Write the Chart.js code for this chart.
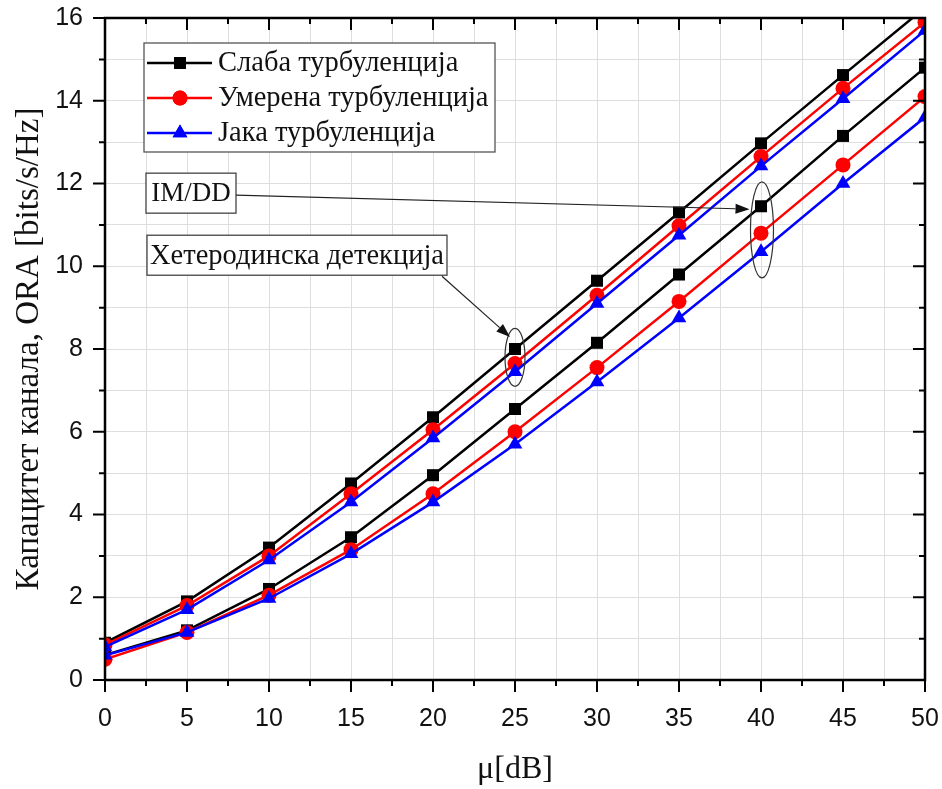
<!DOCTYPE html>
<html><head><meta charset="utf-8">
<script src="https://cdn.jsdelivr.net/npm/chart.js@4.4.1/dist/chart.umd.min.js"></script>
<style>html,body{margin:0;padding:0;background:#fff}#wrap{width:942px;height:789px}</style>
</head><body><div id="wrap"><canvas id="c" width="942" height="789"></canvas></div>
<script>
// ---- data ----
const snrDb = [0, 5, 10, 15, 20, 25, 30, 35, 40, 45, 50];
// heterodyne detection
const hetWeak     = [0.90, 1.90, 3.20, 4.75, 6.35, 8.00, 9.65, 11.30, 12.97, 14.62, 16.25];
const hetModerate = [0.85, 1.80, 3.00, 4.50, 6.05, 7.65, 9.30, 10.98, 12.65, 14.30, 15.90];
const hetStrong   = [0.80, 1.70, 2.90, 4.30, 5.85, 7.45, 9.10, 10.75, 12.42, 14.05, 15.70];
// IM/DD
const imddWeak     = [0.60, 1.20, 2.20, 3.45, 4.95, 6.55, 8.15, 9.80, 11.45, 13.15, 14.80];
const imddModerate = [0.50, 1.15, 2.05, 3.15, 4.50, 6.00, 7.55, 9.15, 10.80, 12.45, 14.10];
const imddStrong   = [0.60, 1.15, 1.97, 3.05, 4.30, 5.70, 7.20, 8.75, 10.35, 12.00, 13.60];

const legendLabels = ['Слаба турбуленција', 'Умерена турбуленција', 'Јака турбуленција'];
const xTitle = 'μ[dB]';
const yTitle = 'Капацитет канала, ORA [bits/s/Hz]';
const xTickValues = [0, 5, 10, 15, 20, 25, 30, 35, 40, 45, 50];
const yTickValues = [0, 2, 4, 6, 8, 10, 12, 14, 16];
const annoImdd = 'IM/DD';
const annoHet = 'Хетеродинска детекција';

// ---- styles ----
const colors = ['#000000', '#ff0000', '#0000ff'];
const shapes = ['rect', 'circle', 'triangle'];
const radii = [8.5, 7.5, 8.5];
const serif = '"Liberation Serif", "Times New Roman", serif';
const sans = '"Liberation Sans", Arial, sans-serif';

function pts(arr) { return snrDb.map((x, i) => ({x: x, y: arr[i]})); }
function ds(arr, k) {
  return {
    data: pts(arr), borderColor: colors[k], backgroundColor: colors[k],
    borderWidth: 2.5, pointStyle: shapes[k], pointRadius: radii[k], pointHoverRadius: radii[k],
    pointBorderWidth: 0, showLine: true, tension: 0, clip: 0, order: 3 - k
  };
}

const framePlugin = {
  id: 'frame',
  afterDatasetsDraw(chart) {
    const {ctx, chartArea: a, scales: {x, y}} = chart;
    ctx.save();
    // frame
    ctx.strokeStyle = '#000'; ctx.lineWidth = 2.5;
    ctx.strokeRect(a.left, a.top, a.right - a.left, a.bottom - a.top);
    // ticks
    ctx.lineWidth = 2;
    for (let v = 0; v <= 50.001; v += 2.5) {
      const px = x.getPixelForValue(v);
      const major = Math.abs(v % 5) < 1e-6;
      const L = major ? 12 : 6;
      ctx.beginPath();
      ctx.moveTo(px, a.bottom); ctx.lineTo(px, a.bottom + L);
      ctx.moveTo(px, a.top); ctx.lineTo(px, a.top + L);
      ctx.stroke();
    }
    for (let v = 0; v <= 16.001; v += 1) {
      const py = y.getPixelForValue(v);
      const major = v % 2 === 0;
      const L = major ? 12 : 6;
      ctx.beginPath();
      ctx.moveTo(a.left, py); ctx.lineTo(a.left - L, py);
      ctx.moveTo(a.right, py); ctx.lineTo(a.right - L, py);
      ctx.stroke();
    }
    // ---- annotations ----
    const X = v => x.getPixelForValue(v), Y = v => y.getPixelForValue(v);
    ctx.lineWidth = 1.2; ctx.strokeStyle = '#333';
    function ellipse(cx, cy, rx, ry) {
      ctx.beginPath();
      ctx.ellipse(X(cx), Y(cy), rx, ry, 0, 0, Math.PI * 2);
      ctx.stroke();
    }
    ellipse(25, 7.8, 10, 29);
    ellipse(40.06, 10.88, 11.5, 48);
    function box(txt, lx, ty, w, h, fs) {
      const l = X(lx), t = Y(ty);
      ctx.fillStyle = '#fff';
      ctx.fillRect(l, t, w, h);
      ctx.strokeStyle = '#444'; ctx.lineWidth = 1.3;
      ctx.strokeRect(l, t, w, h);
      ctx.fillStyle = '#111';
      ctx.font = fs + 'px ' + serif;
      ctx.textAlign = 'center'; ctx.textBaseline = 'middle';
      ctx.fillText(txt, l + w / 2, t + h / 2 + 1);
      return {l, t, w, h};
    }
    function arrow(x0, y0, x1, y1) {
      ctx.strokeStyle = '#222'; ctx.fillStyle = '#111'; ctx.lineWidth = 1.2;
      const ang = Math.atan2(y1 - y0, x1 - x0);
      const hl = 14, hw = 5;
      const bx = x1 - hl * Math.cos(ang), by = y1 - hl * Math.sin(ang);
      ctx.beginPath(); ctx.moveTo(x0, y0); ctx.lineTo(bx, by); ctx.stroke();
      ctx.beginPath();
      ctx.moveTo(x1, y1);
      ctx.lineTo(bx + hw * Math.sin(ang), by - hw * Math.cos(ang));
      ctx.lineTo(bx - hw * Math.sin(ang), by + hw * Math.cos(ang));
      ctx.closePath(); ctx.fill();
    }
    const b1 = box(annoImdd, 2.5, 12.25, 90, 40, 27);
    arrow(b1.l + b1.w, b1.t + 22, X(39.3), Y(11.38));
    const b2 = box(annoHet, 2.56, 10.75, 300, 40, 28.5);
    arrow(X(20.55), Y(9.76), X(24.7), Y(8.29));

    // ---- legend ----
    const lx = 144, ly = 43, lw = 351, lh = 109;
    ctx.fillStyle = '#fff'; ctx.fillRect(lx, ly, lw, lh);
    ctx.strokeStyle = '#555'; ctx.lineWidth = 1.3; ctx.strokeRect(lx, ly, lw, lh);
    const rows = [63, 98, 133];
    for (let k = 0; k < 3; k++) {
      const ry = rows[k];
      ctx.strokeStyle = colors[k]; ctx.lineWidth = 2.5;
      ctx.beginPath(); ctx.moveTo(147, ry); ctx.lineTo(212, ry); ctx.stroke();
      ctx.fillStyle = colors[k];
      Chart.helpers.drawPoint(ctx, {pointStyle: shapes[k], radius: radii[k], borderWidth: 0}, 180, ry);
      ctx.fill();
      ctx.fillStyle = '#111';
      ctx.font = '28.5px ' + serif;
      ctx.textAlign = 'left'; ctx.textBaseline = 'middle';
      ctx.fillText(legendLabels[k], 218, ry + 1);
    }
    ctx.restore();
  }
};

new Chart(document.getElementById('c'), {
  type: 'scatter',
  data: { datasets: [
    ds(hetWeak, 0), ds(hetModerate, 1), ds(hetStrong, 2),
    ds(imddWeak, 0), ds(imddModerate, 1), ds(imddStrong, 2)
  ]},
  options: {
    responsive: false, animation: false, devicePixelRatio: 1,
    layout: { padding: { left: 0, right: 17, top: 18, bottom: 0 } },
    plugins: { legend: { display: false }, tooltip: { enabled: false } },
    scales: {
      x: {
        type: 'linear', min: 0, max: 50,
        afterFit(s) { s.height = 109; s.paddingLeft = 0; s.paddingRight = 0; },
        afterBuildTicks(s) { s.ticks = []; for (let v = 0; v <= 50; v += 2.5) s.ticks.push({value: v}); },
        ticks: {
          autoSkip: false, maxRotation: 0, padding: 24, color: '#111',
          font: { family: sans, size: 25 },
          callback: v => xTickValues.includes(v) ? String(v) : ''
        },
        grid: { color: '#dedede', lineWidth: 1, drawTicks: false },
        border: { display: false },
        title: { display: true, text: xTitle, color: '#111', font: { family: serif, size: 32 }, padding: { top: 0, bottom: 0 } }
      },
      y: {
        type: 'linear', min: 0, max: 16,
        afterFit(s) { s.width = 105; s.paddingTop = 0; s.paddingBottom = 0; },
        afterBuildTicks(s) { s.ticks = []; for (let v = 0; v <= 16; v += 1) s.ticks.push({value: v}); },
        ticks: {
          autoSkip: false, padding: 22, color: '#111',
          font: { family: sans, size: 25 },
          callback: v => yTickValues.includes(v) ? String(v) : ''
        },
        grid: { color: '#dedede', lineWidth: 1, drawTicks: false },
        border: { display: false },
        title: { display: true, text: yTitle, color: '#111', font: { family: serif, size: 33 }, padding: { top: 10, bottom: 0 } }
      }
    }
  },
  plugins: [framePlugin]
});
</script></body></html>
